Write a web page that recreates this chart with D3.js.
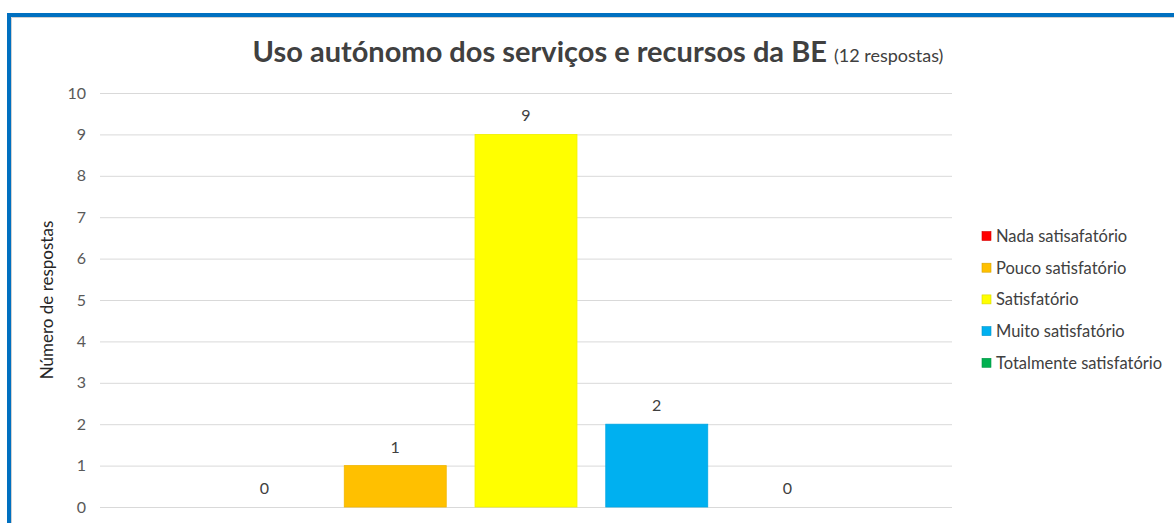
<!DOCTYPE html>
<html>
<head>
<meta charset="utf-8">
<script src="https://cdn.jsdelivr.net/npm/d3@7"></script>
<style>
  html, body { margin: 0; padding: 0; background: #fff; overflow: hidden; }
  svg { display: block; font-family: Lato, "Open Sans", sans-serif; }
</style>
</head>
<body>
<svg class="stage" width="1174" height="523"></svg>
<script>
(function () {
  // data
  var series = ['Nada satisafatório', 'Pouco satisfatório', 'Satisfatório', 'Muito satisfatório', 'Totalmente satisfatório'];
  var values = [0, 1, 9, 2, 0];
  var colors = ['#FF0000', '#FFC000', '#FFFF00', '#00B0F0', '#00B050'];
  var yTicks = [0, 1, 2, 3, 4, 5, 6, 7, 8, 9, 10];
  var title = 'Uso autónomo dos serviços e recursos da BE';
  var subtitle = '(12 respostas)';
  var yLabel = 'Número de respostas';

  var svg = d3.select('svg.stage');

  var plot = { left: 100, right: 952, top: 93, bottom: 507 };

  // frame
  svg.append('rect')
    .attr('x', 9).attr('y', 15)
    .attr('width', 1300).attr('height', 700)
    .attr('fill', 'none')
    .attr('stroke', '#0070C0')
    .attr('stroke-width', 4);
  svg.append('path')
    .attr('d', 'M11.5,600V17.5H1300')
    .attr('fill', 'none')
    .attr('stroke', '#D0D0D0')
    .attr('stroke-width', 1);

  var y = d3.scaleLinear()
    .domain([0, 10])
    .range([plot.bottom, plot.top]);

  // one category, five series side by side
  var outer = d3.scaleBand()
    .domain(['all'])
    .range([plot.left, plot.right])
    .paddingInner(0)
    .paddingOuter(0.1816);

  var x = d3.scaleBand()
    .domain(series)
    .range([0, outer.bandwidth()])
    .paddingInner(0.22)
    .paddingOuter(0);

  // gridlines + tick labels
  var yAxis = d3.axisLeft(y)
    .tickValues(yTicks)
    .tickSize(-(plot.right - plot.left))
    .tickPadding(14)
    .tickFormat(d3.format('d'));

  var gy = svg.append('g')
    .attr('transform', 'translate(' + plot.left + ',0)')
    .call(yAxis);
  gy.select('.domain').remove();
  gy.selectAll('.tick line')
    .attr('stroke', '#D9D9D9')
    .attr('stroke-width', 1);
  gy.selectAll('.tick text')
    .attr('fill', '#595959')
    .attr('font-size', 16)
    .attr('font-family', 'Lato, sans-serif');

  // bars
  var g = svg.append('g')
    .attr('transform', 'translate(' + outer('all') + ',0)');

  var data = series.map(function (s, i) {
    return { name: s, value: values[i], color: colors[i] };
  });

  g.selectAll('rect.bar')
    .data(data)
    .enter().append('rect')
    .attr('class', 'bar')
    .attr('x', function (d) { return x(d.name); })
    .attr('y', function (d) { return y(d.value); })
    .attr('width', x.bandwidth())
    .attr('height', function (d) { return y(0) - y(d.value); })
    .attr('fill', function (d) { return d.color; })
    .attr('stroke', function (d) { return d3.color(d.color).darker(0.15); })
    .attr('stroke-width', 0.8);

  g.selectAll('text.val')
    .data(data)
    .enter().append('text')
    .attr('class', 'val')
    .attr('x', function (d) { return x(d.name) + x.bandwidth() / 2; })
    .attr('y', function (d) { return y(d.value) - 13; })
    .attr('text-anchor', 'middle')
    .attr('font-size', 16)
    .attr('fill', '#404040')
    .text(function (d) { return d.value; });

  // title
  var t = svg.append('text')
    .attr('x', 598)
    .attr('y', 62)
    .attr('text-anchor', 'middle')
    .attr('fill', '#404040');
  t.append('tspan')
    .attr('font-size', 29)
    .attr('font-weight', 'bold')
    .text(title + ' ');
  t.append('tspan')
    .attr('font-size', 18)
    .text(subtitle);

  // y label
  svg.append('text')
    .attr('transform', 'translate(53,' + ((plot.top + plot.bottom) / 2) + ') rotate(-90)')
    .attr('text-anchor', 'middle')
    .attr('font-size', 17)
    .attr('fill', '#262626')
    .text(yLabel);

  // legend
  var legend = svg.append('g')
    .attr('transform', 'translate(982,236)');

  var item = legend.selectAll('g')
    .data(data)
    .enter().append('g')
    .attr('transform', function (d, i) { return 'translate(0,' + (i * 31.7) + ')'; });

  item.append('rect')
    .attr('x', 0).attr('y', -4.5)
    .attr('width', 9).attr('height', 9)
    .attr('fill', function (d) { return d.color; })
    .attr('stroke', function (d) { return d3.color(d.color).darker(0.5); })
    .attr('stroke-width', 0.6);

  item.append('text')
    .attr('x', 14)
    .attr('y', 6)
    .attr('font-size', 16.5)
    .attr('fill', '#404040')
    .text(function (d) { return d.name; });
})();
</script>
</body>
</html>
